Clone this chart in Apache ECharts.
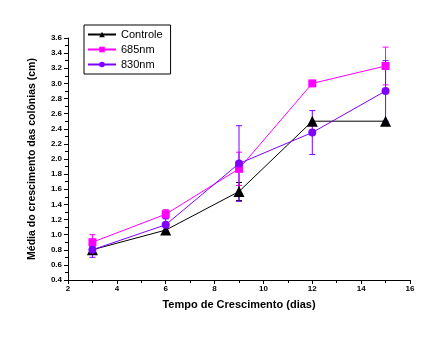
<!DOCTYPE html>
<html><head><meta charset="utf-8">
<script src="https://cdn.jsdelivr.net/npm/echarts@6/dist/echarts.min.js"></script>
<style>html,body{margin:0;padding:0;background:#fff}#c{width:440px;height:344px}</style>
</head><body><div id="c"></div>
<script>
var days = [3, 6, 9, 12, 15];
var controle = [0.8, 1.06, 1.57, 2.5, 2.5];
var controleErr = [0.04, 0.05, 0.12, 0, 0];
var nm685 = [0.9, 1.27, 1.87, 3.0, 3.23];
var nm685Err = [0.1, 0.06, 0.22, 0, 0.25];
var nm830 = [0.8, 1.13, 1.94, 2.35, 2.9];
var nm830Err = [0.1, 0.08, 0.5, 0.29, 0.4];
var seriesNames = ['Controle', '685nm', '830nm'];
var colors = ['#000000', '#ff00ff', '#7f00ff'];

function pairs(ys) { return days.map(function (d, i) { return [d, ys[i]]; }); }
function errData(ys, es) { return days.map(function (d, i) { return [d, ys[i] - es[i], ys[i] + es[i]]; }); }
function errSeries(name, ys, es, color) {
  return {
    type: 'custom', name: name + '-err', data: errData(ys, es), z: 3,
    renderItem: function (params, api) {
      var x = api.value(0), lo = api.value(1), hi = api.value(2);
      if (hi - lo < 1e-6) return null;
      var p1 = api.coord([x, lo]), p2 = api.coord([x, hi]);
      var w = 3;
      var st = { stroke: color, lineWidth: 1 };
      return { type: 'group', children: [
        { type: 'line', shape: { x1: p1[0], y1: p1[1], x2: p2[0], y2: p2[1] }, style: st },
        { type: 'line', shape: { x1: p1[0] - w, y1: p1[1], x2: p1[0] + w, y2: p1[1] }, style: st },
        { type: 'line', shape: { x1: p2[0] - w, y1: p2[1], x2: p2[0] + w, y2: p2[1] }, style: st }
      ]};
    }
  };
}
var tickFont = { fontFamily: 'Liberation Sans, Arial', fontSize: 8, fontWeight: 'bold', color: '#000' };
var chart = echarts.init(document.getElementById('c'), null, { renderer: 'canvas' });
chart.setOption({
  animation: false,
  backgroundColor: '#fff',
  grid: { left: 68, right: 30, top: 38, bottom: 64, containLabel: false },
  legend: {
    data: seriesNames, orient: 'vertical', left: 84, top: 25,
    backgroundColor: '#fff', borderColor: '#000', borderWidth: 1, borderRadius: 0,
    padding: [4, 8, 4, 3], itemGap: 4, itemWidth: 28, itemHeight: 7,
    textStyle: { fontFamily: 'Liberation Sans, Arial', fontSize: 11, color: '#000' }
  },
  xAxis: {
    type: 'value', min: 2, max: 16, interval: 2,
    name: 'Tempo de Crescimento (dias)', nameLocation: 'middle', nameGap: 19,
    nameTextStyle: { fontFamily: 'Liberation Sans, Arial', fontSize: 11, fontWeight: 'bold', color: '#000' },
    axisLine: { lineStyle: { color: '#000', width: 1 } },
    axisTick: { length: 4, lineStyle: { color: '#000' } },
    minorTick: { show: true, splitNumber: 2, length: 3, lineStyle: { color: '#000' } },
    axisLabel: Object.assign({ margin: 5 }, tickFont),
    splitLine: { show: false }
  },
  yAxis: {
    type: 'value', min: 0.4, max: 3.6, interval: 0.2,
    name: 'Média do crescimento das colônias (cm)', nameLocation: 'middle', nameGap: 30, nameRotate: 90,
    nameTextStyle: { fontFamily: 'Liberation Sans, Arial', fontSize: 10.5, fontWeight: 'bold', color: '#000' },
    axisLine: { show: true, lineStyle: { color: '#000', width: 1 } },
    axisTick: { show: true, length: 4, lineStyle: { color: '#000' } },
    minorTick: { show: true, splitNumber: 2, length: 3, lineStyle: { color: '#000' } },
    axisLabel: Object.assign({ margin: 6, formatter: function (v) { return v.toFixed(1); } }, tickFont),
    splitLine: { show: false }
  },
  series: [
    errSeries('Controle', controle, controleErr, colors[0]),
    errSeries('685nm', nm685, nm685Err, colors[1]),
    errSeries('830nm', nm830, nm830Err, colors[2]),
    { name: 'Controle', type: 'line', data: pairs(controle), symbol: 'triangle', symbolSize: 11,
      itemStyle: { color: colors[0] }, lineStyle: { color: colors[0], width: 1 }, z: 4 },
    { name: '685nm', type: 'line', data: pairs(nm685), symbol: 'rect', symbolSize: 8,
      itemStyle: { color: colors[1] }, lineStyle: { color: colors[1], width: 1 }, z: 4 },
    { name: '830nm', type: 'line', data: pairs(nm830), symbol: 'circle', symbolSize: 8,
      itemStyle: { color: colors[2] }, lineStyle: { color: colors[2], width: 1 }, z: 5 }
  ]
});
</script></body></html>
